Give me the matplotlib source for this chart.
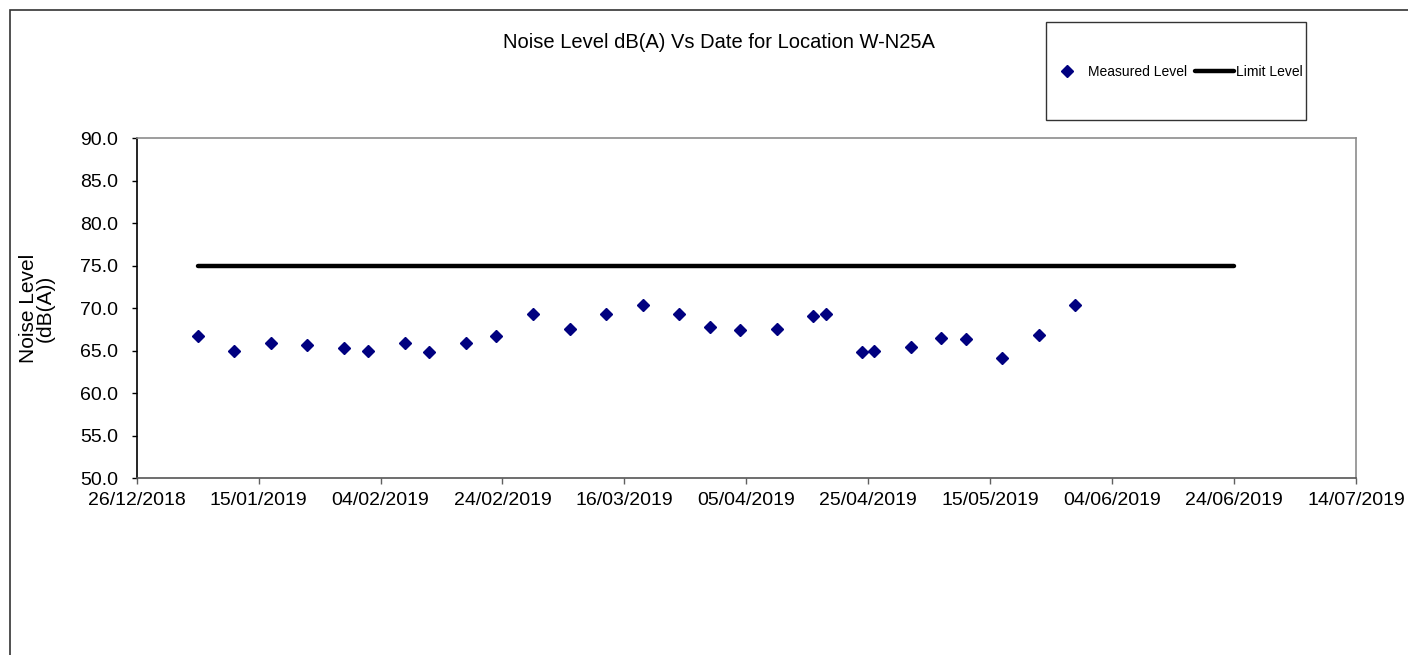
import datetime as dt
import matplotlib
matplotlib.use('Agg')
import matplotlib.pyplot as plt
import matplotlib.dates as mdates
from matplotlib.patches import Rectangle
from matplotlib.ticker import FormatStrFormatter

plt.rcParams['font.family'] = ['Liberation Sans', 'DejaVu Sans']

# survey dates and measured noise levels
dates = ['2019-01-05', '2019-01-11', '2019-01-17', '2019-01-23', '2019-01-29',
         '2019-02-02', '2019-02-08', '2019-02-12', '2019-02-18', '2019-02-23',
         '2019-03-01', '2019-03-07', '2019-03-13', '2019-03-19', '2019-03-25',
         '2019-03-30', '2019-04-04', '2019-04-10', '2019-04-16', '2019-04-18',
         '2019-04-24', '2019-04-26', '2019-05-02', '2019-05-07', '2019-05-11',
         '2019-05-17', '2019-05-23', '2019-05-29']
levels = [66.7, 64.9, 65.9, 65.6, 65.3, 65.0, 65.9, 64.8, 65.9, 66.7,
          69.3, 67.5, 69.3, 70.4, 69.3, 67.8, 67.4, 67.5, 69.1, 69.3,
          64.8, 65.0, 65.4, 66.5, 66.3, 64.1, 66.8, 70.3]

limit_dates = ['2019-01-05', '2019-06-24']
limit_levels = [75.0, 75.0]

x_start = '2018-12-26'
x_end = '2019-07-14'

def to_dt(s):
    return dt.datetime.strptime(s, '%Y-%m-%d')

x = [to_dt(d) for d in dates]
xl = [to_dt(d) for d in limit_dates]

fig = plt.figure(figsize=(14.08, 6.55), dpi=100)
ax = fig.add_axes([0.0971, 0.2702, 0.8659, 0.5191])

lim_line, = ax.plot(xl, limit_levels, color='black', lw=3.2,
                    solid_capstyle='round', label='Limit Level')
meas, = ax.plot(x, levels, linestyle='none', marker='D', markersize=6,
                color='#000080', label='Measured Level')

ax.set_xlim(to_dt(x_start), to_dt(x_end))
ax.set_ylim(50, 90)
ax.set_yticks([50, 55, 60, 65, 70, 75, 80, 85, 90])
ax.yaxis.set_major_formatter(FormatStrFormatter('%.1f'))

ticks = []
d = to_dt(x_start)
while d <= to_dt(x_end):
    ticks.append(d)
    d += dt.timedelta(days=20)
ax.set_xticks(ticks)
ax.xaxis.set_major_formatter(mdates.DateFormatter('%d/%m/%Y'))

ax.tick_params(axis='x', direction='out', length=4, width=1, color='#606060',
               labelsize=14, pad=6, labelcolor='black')
ax.tick_params(axis='y', direction='out', length=3.5, width=1, color='black',
               labelsize=14, pad=10, labelcolor='black')

ax.spines['left'].set_color('black')
ax.spines['bottom'].set_color('#555555')
ax.spines['top'].set_color('#8c8c8c')
ax.spines['right'].set_color('#8c8c8c')
for s in ax.spines.values():
    s.set_linewidth(1.2)

ax.set_ylabel('Noise Level\n(dB(A))', fontsize=15, linespacing=0.9)
ax.yaxis.set_label_coords(-0.067, 0.5)

fig.text(0.5107, 1 - 43 / 655, 'Noise Level dB(A) Vs Date for Location W-N25A',
         ha='center', va='center', fontsize=14.5)

# legend box
fig.patches.append(Rectangle((1046 / 1408, 1 - 120 / 655), 260 / 1408, 98 / 655,
                             transform=fig.transFigure, fill=False,
                             edgecolor='#333333', lw=1))
fig.legend(handles=[meas, lim_line], loc='center',
           bbox_to_anchor=(1175 / 1408, 1 - 72 / 655), ncol=2, frameon=False,
           fontsize=10, handlelength=2.8, handletextpad=0.1, columnspacing=0.6)

# outer chart border
fig.patches.append(Rectangle((9.5 / 1408, -0.1), 1.2, 1.1 - 10 / 655,
                             transform=fig.transFigure, fill=False,
                             edgecolor='#333333', lw=1.2))

fig.savefig('out.png', dpi=100)
